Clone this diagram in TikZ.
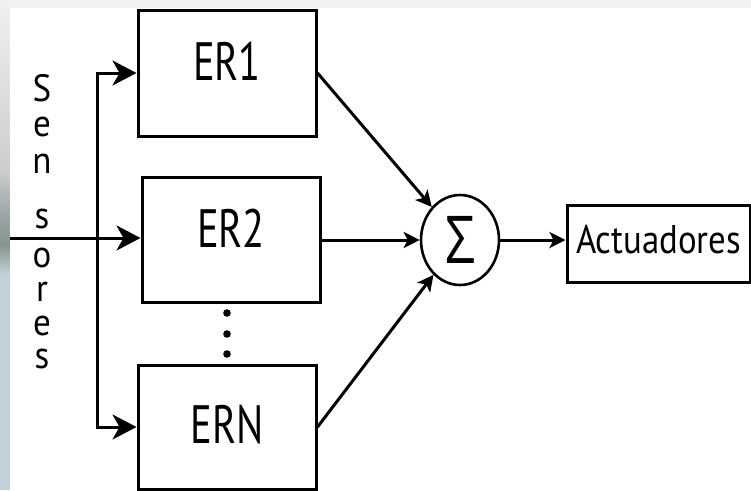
\documentclass[tikz,border=0pt]{standalone}
\usepackage{fontspec}
\setmainfont{PT Sans}
\newfontfamily\blockfont[FakeStretch=0.75]{PT Sans}
\newfontfamily\actfont[FakeStretch=0.87]{PT Sans}
\newfontfamily\sensfont[FakeStretch=0.92]{PT Sans}
\newfontfamily\sigmafont[FakeStretch=0.8]{Open Sans}
\usetikzlibrary{arrows.meta,shapes.geometric}

\definecolor{panelgrey}{HTML}{F1F1F1}
\definecolor{stripgrey}{HTML}{9AA6A6}
\definecolor{stripdark}{HTML}{86968F}
\definecolor{stripblue}{HTML}{C2D2D8}

\begin{document}
\begin{tikzpicture}[x=1pt,y=-1pt,
  block/.style={draw,rectangle,line width=3pt,inner sep=0pt,
    text height=38pt,font=\blockfont\fontsize{54}{54}\selectfont},
  sumnode/.style={draw,ellipse,line width=2.6pt,inner sep=0pt,
    minimum width=78pt,minimum height=90pt,
    font=\sigmafont\fontsize{66}{66}\selectfont},
  letter/.style={anchor=base,inner sep=0pt,text height=22pt,text depth=0pt,
    font=\sensfont\fontsize{38}{38}\selectfont},
  bigtip/.style={-{Stealth[length=24pt,width=25pt,inset=7pt]},line width=3pt},
  smalltip/.style={-{Stealth[length=16pt,width=16pt,inset=4pt]},line width=3pt},
]
\useasboundingbox (0,0) rectangle (751,490);

% slide background: grey frame, shaded strip on the left, white panel
\fill[panelgrey] (0,0) rectangle (751,490);
\shade[top color=panelgrey,bottom color=panelgrey!85!black] (0,0) rectangle (10,170);
\shade[top color=panelgrey!85!black,bottom color=stripgrey] (0,170) rectangle (10,215);
\shade[top color=stripgrey,bottom color=stripdark] (0,215) rectangle (10,245);
\shade[top color=stripdark,bottom color=stripblue] (0,245) rectangle (10,275);
\fill[stripblue] (0,275) rectangle (10,490);
\fill[white] (10,8) rectangle (751,490);

% blocks
\node[block,text depth=24pt,minimum width=178pt,minimum height=126pt] (ER1) at (227,73) {ER1};
\node[block,text depth=22pt,minimum width=178pt,minimum height=125pt] (ER2) at (231,239.5) {ER2};
\node[block,text depth=6pt,minimum width=178pt,minimum height=124pt] (ERN) at (227,427) {ERN};
\node[sumnode] (sum) at (460,240) {Σ};
\node[block,minimum width=183pt,minimum height=77pt,
  text height=28pt,text depth=9pt,
  font=\actfont\fontsize{40}{40}\selectfont] (act) at (658.5,243.5) {Actuadores};

% vertical sensor label, one letter per line
\node[letter] (s1) at (42,101) {S};
\node[letter] (s2) at (42,136) {e};
\node[letter] (s3) at (42,173) {n};
\node[letter] (s4) at (42,228) {s};
\node[letter] (s5) at (42,267) {o};
\node[letter] (s6) at (42,301) {r};
\node[letter] (s7) at (42,335) {e};
\node[letter] (s8) at (42,368) {s};

% ellipsis between the second and last blocks
\fill (227,313) circle (3.8pt);
\fill (227,334) circle (3.8pt);
\fill (227,354) circle (3.8pt);

% sensor input distribution
\coordinate (in) at (10,238);
\coordinate (split) at (97,238);
\draw[bigtip] (in) -- (ER2.west |- in);
\draw[bigtip] (split) |- (ER1.west);
\draw[bigtip] (split) |- (ERN.west);

% summation and output
\draw[smalltip] (ER1.east) -- (sum);
\draw[smalltip] (ER2.east |- sum) -- (sum);
\draw[smalltip] (ERN.east) -- (sum);
\draw[smalltip] (sum) -- (act.west |- sum);
\end{tikzpicture}
\end{document}
